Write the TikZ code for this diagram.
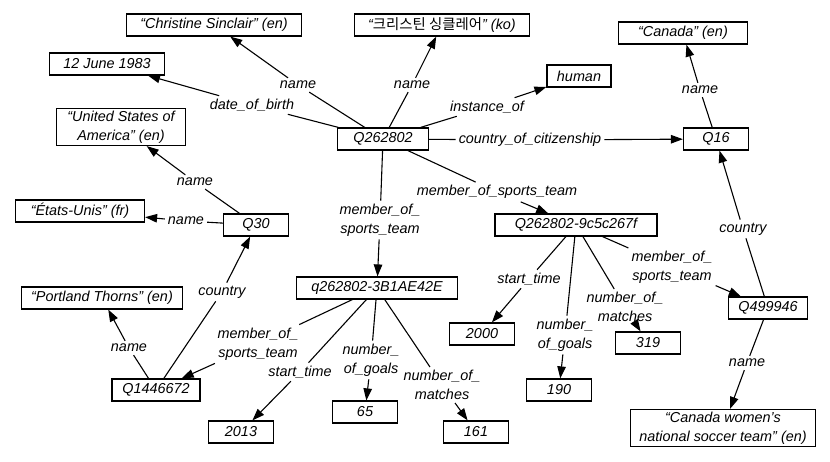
\documentclass[tikz,border=0pt]{standalone}
\usepackage{fontspec}
\setmainfont{Liberation Sans}
\newfontfamily\kofont{Noto Sans CJK KR}
\usetikzlibrary{arrows.meta}

\begin{document}
\begin{tikzpicture}[x=1pt, y=-1pt, every node/.style={font=\fontsize{14.4}{19}\selectfont\itshape, align=center}, box/.style={draw, line width=1.2pt, inner sep=0pt, minimum height=22pt, minimum width=#1}, box/.default=65pt, tall/.style={minimum height=37pt}, lbl/.style={inner sep=3pt}, edge/.style={line width=1.1pt, -{Triangle[length=12pt, width=8.5pt]}}]
  \useasboundingbox (0,0) rectangle (830,462);
  % items and values
  \node[box=175pt] (chris) at (214,25) {“Christine Sinclair” (en)};
  \node[box=175pt] (ko) at (442,25) {“{\kofont\upshape 크리스틴 싱클레어}” (ko)};
  \node[box=115pt] (dob) at (107,64) {12 June 1983};
  \node[box=129pt, tall] (usa) at (121,127) {“United States of\\America” (en)};
  \node[box=91pt] (q262802) at (383,139) {Q262802};
  \node[box=64pt] (human) at (579,76) {human};
  \node[box=129pt] (canada) at (683,33) {“Canada” (en)};
  \node[box] (q16) at (716,139) {Q16};
  \node[box=129pt] (etats) at (80,211) {“États-Unis” (fr)};
  \node[box] (q30) at (256,225) {Q30};
  \node[box=161pt] (portland) at (102,298) {“Portland Thorns” (en)};
  \node[box=161pt] (stmta) at (377,288) {q262802-3B1AE42E};
  \node[box=162pt] (stmtb) at (576,225) {Q262802-9c5c267f};
  \node[box=88pt] (q1446672) at (156,390) {Q1446672};
  \node[box=79pt] (q499946) at (768,308) {Q499946};
  \node[box] (n2013) at (241,432) {2013};
  \node[box] (n65) at (365,412) {65};
  \node[box] (n161) at (476,432) {161};
  \node[box] (n2000) at (482,334) {2000};
  \node[box] (n190) at (559,390) {190};
  \node[box] (n319) at (648,343) {319};
  \node[box=185pt, tall] (cwnst) at (723,428) {“Canada women's\\national soccer team” (en)};
  % property labels
  \node[lbl] (a1) at (298,85) {name};
  \node[lbl] (a2) at (252,105) {date\_of\_birth};
  \node[lbl] (a3) at (412,85) {name};
  \node[lbl] (a4) at (487,107) {instance\_of};
  \node[lbl] (a5) at (530,140) {country\_of\_citizenship};
  \node[lbl] (a6) at (497,192) {member\_of\_sports\_team};
  \node[lbl] (a7) at (380,220) {member\_of\_\\sports\_team};
  \node[lbl] (b1) at (700,90) {name};
  \node[lbl] (b2) at (743,229) {country};
  \node[lbl] (b3) at (747,363) {name};
  \node[lbl] (c1) at (672,267) {member\_of\_\\sports\_team};
  \node[lbl] (c2) at (529,279) {start\_time};
  \node[lbl] (c3) at (565,335) {number\_\\of\_goals};
  \node[lbl] (c4) at (625,307) {number\_of\_\\matches};
  \node[lbl] (d1) at (258,344) {member\_of\_\\sports\_team};
  \node[lbl] (d2) at (300,372) {start\_time};
  \node[lbl] (d3) at (371,360) {number\_\\of\_goals};
  \node[lbl] (d4) at (442,385) {number\_of\_\\matches};
  \node[lbl] (e1) at (129,348) {name};
  \node[lbl] (e2) at (222,292) {country};
  \node[lbl] (f1) at (195,182) {name};
  \node[lbl] (f2) at (186,221) {name};
  % statements
  \draw[edge] (q262802) -- (a1) (a1) -- (chris);
  \draw[edge] (q262802) -- (a2) (a2) -- (dob);
  \draw[edge] (q262802) -- (a3) (a3) -- (ko);
  \draw[edge] (q262802) -- (a4) (a4) -- (human);
  \draw[edge] (q262802) -- (a5) (a5) -- (q16);
  \draw[edge] (q262802) -- (a6) (a6) -- (stmtb);
  \draw[edge] (q262802) -- (a7) (a7) -- (stmta);
  \draw[edge] (q16) -- (b1) (b1) -- (canada);
  \draw[edge] (q499946) -- (b2) (b2) -- (q16);
  \draw[edge] (q499946) -- (b3) (b3) -- (cwnst);
  \draw[edge] (stmtb) -- (c1) (c1) -- (q499946);
  \draw[edge] (stmtb) -- (c2) (c2) -- (n2000);
  \draw[edge] (stmtb) -- (c3) (c3) -- (n190);
  \draw[edge] (stmtb) -- (c4) (c4) -- (n319);
  \draw[edge] (stmta) -- (d1) (d1) -- (q1446672);
  \draw[edge] (stmta) -- (d2) (d2) -- (n2013);
  \draw[edge] (stmta) -- (d3) (d3) -- (n65);
  \draw[edge] (stmta) -- (d4) (d4) -- (n161);
  \draw[edge] (q1446672) -- (e1) (e1) -- (portland);
  \draw[edge] (q1446672) -- (e2) (e2) -- (q30);
  \draw[edge] (q30) -- (f1) (f1) -- (usa);
  \draw[edge] (q30) -- (f2) (f2) -- (etats);
\end{tikzpicture}
\end{document}
